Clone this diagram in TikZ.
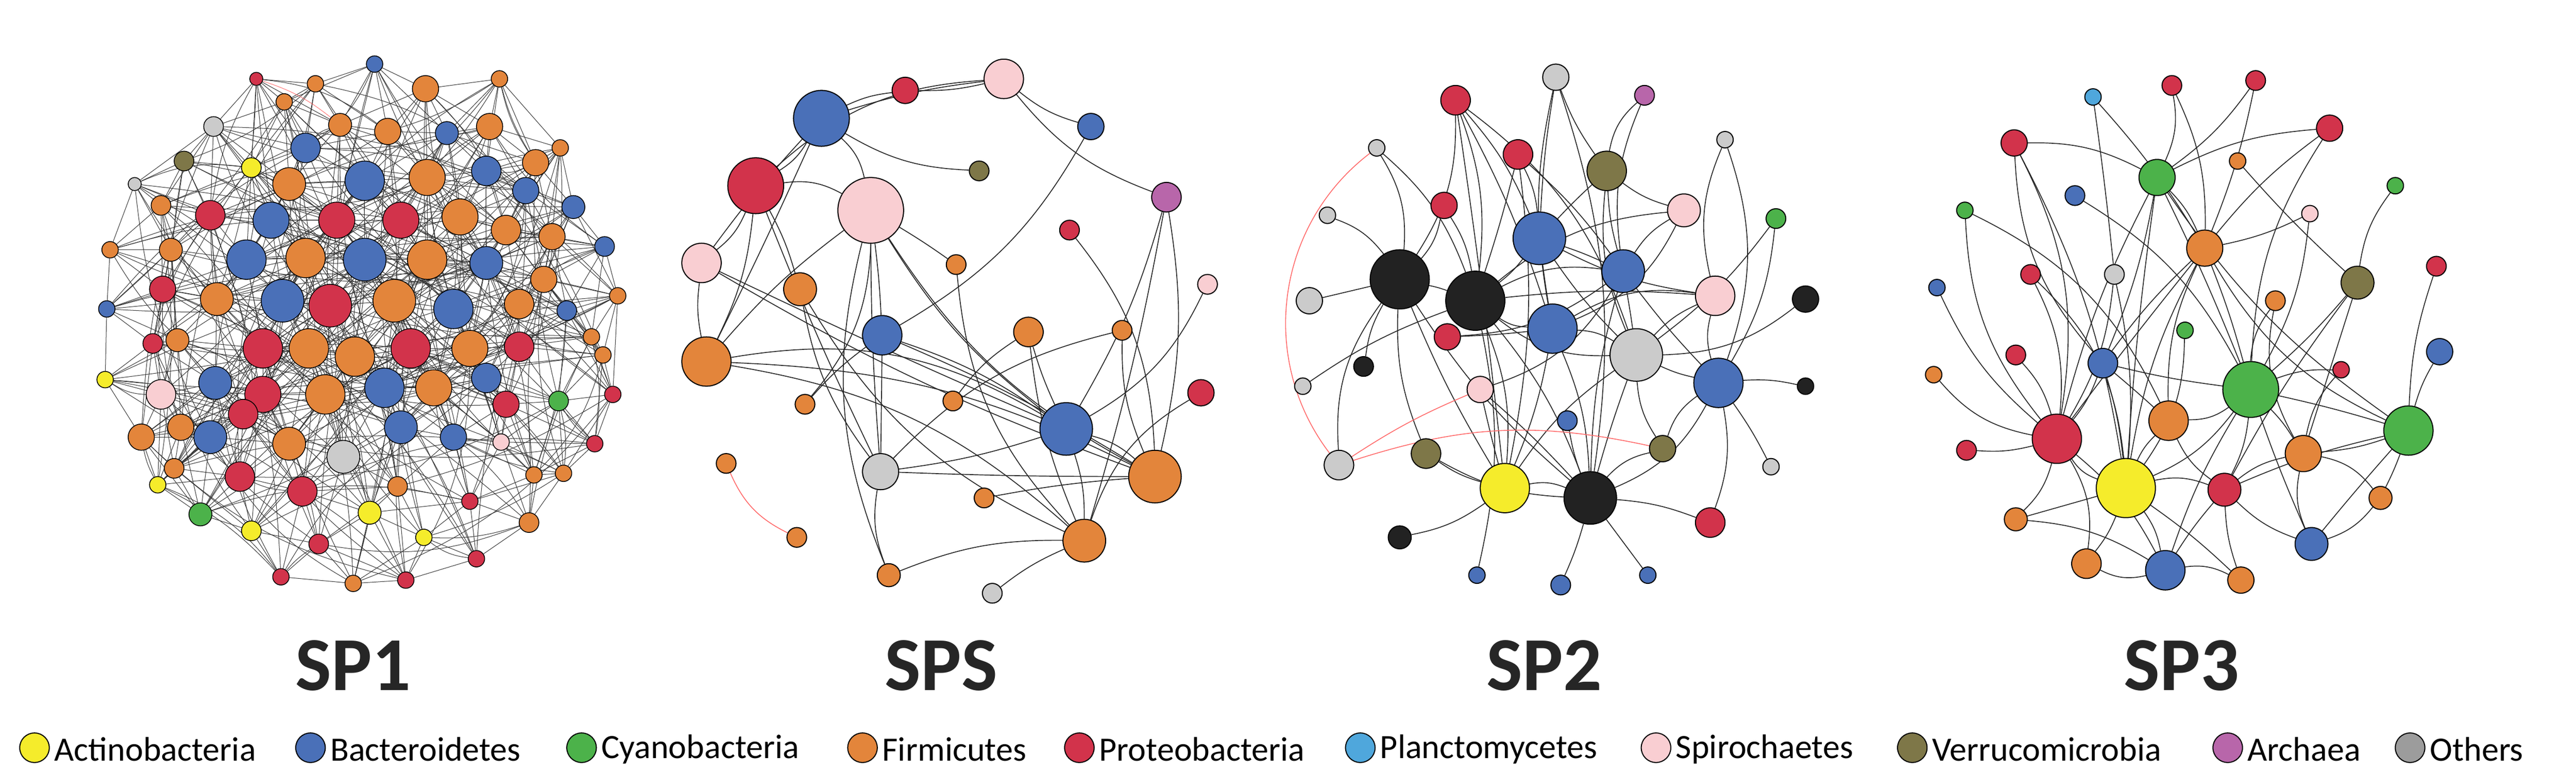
\documentclass[tikz,border=0pt]{standalone}
\usepackage{fontspec}
\setmainfont{Carlito}
\usetikzlibrary{backgrounds}
\definecolor{cY}{HTML}{F5EC2B}
\definecolor{cB}{HTML}{4A70B8}
\definecolor{cG}{HTML}{4CB24A}
\definecolor{cO}{HTML}{E3853B}
\definecolor{cR}{HTML}{D2334B}
\definecolor{cL}{HTML}{4FA7DC}
\definecolor{cP}{HTML}{F9CED2}
\definecolor{cV}{HTML}{7E7748}
\definecolor{cA}{HTML}{B866AA}
\definecolor{cGy}{HTML}{CBCBCB}
\definecolor{cGd}{HTML}{9C9C9C}
\definecolor{cK}{HTML}{222222}
\tikzset{nd/.style={circle,draw=black,line width=1.8pt,inner sep=0pt},
 e1/.style={draw=black!80,line width=0.9pt},
 ed/.style={draw=black!85,line width=1.5pt},
 redge/.style={draw=red!60,line width=1.4pt},
 lab/.style={font=\fontsize{132}{140}\selectfont\bfseries,text=black!85},
 leg/.style={font=\fontsize{59}{64}\selectfont,anchor=west,inner sep=0pt}}
\begin{document}
\begin{tikzpicture}[x=0.1cm,y=-0.1cm]
\useasboundingbox (0,0) rectangle (1568,469.6);
% ---------- SP1 ----------
\foreach \x/\y/\r/\c [count=\i] in {156/48/4/cR,228/39/5/cB,192/51/5/cO,259/54/8/cO,304/48/5/cO,173/62/5/cO,207/76/7/cO,236/80/8/cO,272/81/7/cB,298/77/8/cO,341/90/5/cO,130/77/6/cGy,112/98/6/cV,153/102/6/cY,186/90/9/cB,82/112/4/cGy,326/99/8/cO,176/112/10/cO,222/110/12/cB,260/108/11/cO,296/104/9/cB,320/116/8/cB,349/126/7/cB,128/131/9/cR,165/134/11/cB,205/134/11/cR,244/134/11/cR,280/132/11/cO,308/140/9/cO,336/144/8/cO,98/125/6/cO,67/152/5/cO,368/150/6/cB,104/152/7/cO,150/158/12/cB,186/157/12/cO,222/158/13/cB,260/158/12/cO,296/160/10/cB,331/170/8/cO,99/176/8/cR,132/182/10/cO,172/183/13/cB,201/186/13/cR,240/183/13/cO,276/188/12/cB,316/185/9/cO,345/189/6/cB,65/188/5/cB,376/180/5/cO,108/207/7/cO,160/212/12/cR,188/212/12/cO,216/217/12/cO,250/212/12/cR,286/212/11/cO,316/211/9/cR,93/209/6/cR,360/205/5/cO,131/233/10/cB,160/240/11/cR,198/240/12/cO,234/236/12/cB,264/236/11/cO,296/230/9/cB,98/240/9/cP,64/231/5/cY,340/244/6/cG,367/216/5/cO,373/240/5/cR,110/260/8/cO,128/266/10/cB,148/252/9/cR,176/270/10/cO,209/278/10/cGy,244/260/10/cB,276/266/8/cB,308/246/8/cR,86/266/8/cO,362/270/5/cR,146/290/9/cR,184/299/9/cR,122/313/7/cG,96/295/5/cY,225/312/7/cY,258/327/5/cY,286/305/5/cR,325/289/5/cO,343/288/5/cO,305/269/5/cP,106/285/6/cO,153/323/6/cY,194/331/6/cR,171/351/5/cR,215/355/5/cO,247/353/5/cR,290/340/5/cR,322/318/6/cO,242/296/6/cO}
 \node[nd,line width=1.4pt,fill=\c,minimum size={\r*0.2cm}] (p-\i) at (\x,\y) {};
\begin{pgfonlayer}{background}
\foreach \i in {1,...,99}{
 \foreach \j in {1,...,99}{
  \ifnum\j>\i\relax
   \pgfpointdiff{\pgfpointanchor{p-\i}{center}}{\pgfpointanchor{p-\j}{center}}
   \pgfgetlastxy{\dx}{\dy}
   \pgfmathtruncatemacro\ok{veclen(\dx,\dy)<175}
   \ifnum\ok=1 \draw[e1] (p-\i) -- (p-\j);\fi
  \fi}}
\foreach \i in {1,...,99}{
 \pgfmathtruncatemacro\j{mod(\i*7,99)+1}
 \pgfmathtruncatemacro\k{mod(\i*23,99)+1}
 \pgfmathtruncatemacro\m{mod(\i*41,99)+1}
 \draw[e1] (p-\i) to[bend left=15] (p-\j);
 \draw[e1] (p-\i) to[bend right=10] (p-\k);
 \draw[e1] (p-\i) to[bend left=8] (p-\m);}
\draw[redge,line width=0.8pt] (p-1) to[bend left=10] (p-7);
\end{pgfonlayer}
% ---------- SPS ----------
\foreach \n/\x/\y/\r/\c in {B1/500/72/17/cB,R1/551/55/8/cR,P1/611/48/12/cP,B2/664/77/8/cB,V1/596/104/6/cV,R2/460/113/17/cR,P2/530/128/20/cP,A1/710/120/9/cA,R3/651/140/6/cR,P3/427/160/12/cP,O1/582/161/6/cO,P4/735/173/6/cP,O2/487/176/10/cO,O3/626/202/9/cO,O4/683/201/6/cO,B3/537/204/12/cB,O5/430/220/15/cO,R4/731/239/8/cR,O6/580/244/6/cO,O7/490/246/6/cO,B4/649/261/16/cB,G1/536/287/11/cGy,O8/703/290/16/cO,O9/442/282/6/cO,O10/599/303/6/cO,O11/660/329/13/cO,O12/485/327/6/cO,O13/541/350/7/cO,G2/604/361/6/cGy}
 \node[nd,fill=\c,minimum size={\r*0.2cm}] (a-\n) at (\x,\y) {};
\begin{pgfonlayer}{background}
\foreach \a/\b [count=\k] in {B1/P2,B1/R2,B1/R1,B1/P1,B1/O5,B1/P3,R1/P1,P1/B2,P1/A1,P1/R2,R2/P2,R2/P3,R2/O5,R2/O2,P2/B3,P2/G1,P2/O5,P2/B4,P2/O8,P2/O13,P2/O7,B2/B3,A1/O8,A1/B4,A1/O11,P3/B4,P3/O8,P3/O5,O2/G1,O2/O11,O5/B4,O5/O11,O5/O8,B3/B4,B3/O8,B3/G1,O3/B4,O3/O11,O4/O8,O4/G1,R4/O11,P4/B4,B4/O8,B4/O11,B4/G1,O8/G1,O8/O10,O11/G2,O11/O13,G1/O13,O1/O11,R3/O8,V1/B1,O6/O3,O7/B3,P2/O1,R2/G1}{
 \pgfmathtruncatemacro\bb{mod(\k*37,41)-20}
 \draw[ed] (a-\a) to[bend left=\bb] (a-\b);}
\draw[redge] (a-O9) to[bend right=20] (a-O12);
\end{pgfonlayer}
% ---------- SP2 ----------
\foreach \n/\x/\y/\r/\c in {R1/886/61/9/cR,G1/947/47/8/cGy,A1/1001/58/6/cA,G2/838/90/5/cGy,R2/924/94/9/cR,V1/978/104/12/cV,G3/1050/85/5/cGy,R3/879/125/8/cR,B1/937/145/16/cB,P1/1025/128/10/cP,G4/808/131/5/cGy,Gr1/1081/133/6/cG,K1/852/170/18/cK,K2/898/183/18/cK,B2/988/165/13/cB,P2/1044/180/12/cP,K3/1099/182/8/cK,G5/797/183/8/cGy,R4/881/205/8/cR,B3/945/200/15/cB,G6/996/216/16/cGy,K4/830/223/6/cK,B4/1046/233/15/cB,G7/793/235/5/cGy,P3/901/237/8/cP,K5/1099/235/5/cK,B5/954/256/6/cB,V2/868/276/9/cV,V3/1012/273/8/cV,G8/815/283/9/cGy,Y1/916/297/15/cY,K6/968/303/16/cK,G9/1078/284/5/cGy,R5/1041/318/9/cR,K7/852/327/7/cK,B6/899/350/5/cB,B7/950/356/6/cB,B8/1003/350/5/cB}
 \node[nd,fill=\c,minimum size={\r*0.2cm}] (b-\n) at (\x,\y) {};
\begin{pgfonlayer}{background}
\foreach \a/\b [count=\k] in {R1/K1,R1/K2,R1/B1,R1/B3,R1/Y1,G1/B1,G1/V1,G1/B3,A1/B2,A1/V1,G2/K1,G2/K2,R2/B1,R2/B2,R2/K2,V1/B1,V1/B2,V1/P1,V1/G6,G3/P2,G3/B4,R3/K1,R3/K2,B1/K2,B1/B2,B1/B3,B1/G6,B1/P2,P1/B2,P1/K2,P1/B3,G4/K1,Gr1/B4,Gr1/G6,K1/K2,K1/G5,K1/Y1,K1/K6,K1/V2,K2/B3,K2/G6,K2/B2,K2/Y1,K2/K6,K2/P2,B2/G6,B2/B4,B2/K6,P2/G6,P2/B4,P2/B3,K3/G6,B3/G6,B3/K6,B3/Y1,B3/R4,G6/K6,G6/B4,G6/Y1,G6/V3,B4/V3,B4/K6,B4/R5,K4/K1,G7/K2,P3/K6,P3/Y1,B5/K6,V2/Y1,V2/K6,V3/K6,G8/K1,Y1/K6,Y1/K7,K6/R5,K6/B7,K6/B8,G9/B4,K5/B4,B6/K2,R4/B2,P3/B2,R1/G6,G1/K6,R2/Y1}{
 \pgfmathtruncatemacro\bb{mod(\k*37,41)-20}
 \draw[ed] (b-\a) to[bend left=\bb] (b-\b);}
\draw[redge] (b-G2) to[bend right=45] (b-G8);
\draw[redge] (b-G8) to[bend left=5] (b-P3);
\draw[redge] (b-G8) to[bend left=15] (b-V3);
\end{pgfonlayer}
% ---------- SP3 ----------
\foreach \n/\x/\y/\r/\c in {R1/1322/52/6/cR,R2/1373/49/6/cR,Pl1/1274/59/5/cL,O1/1362/98/5/cO,R3/1418/78/8/cR,R4/1226/87/8/cR,G1/1313/108/11/cG,Gr2/1458/113/5/cG,Gr3/1196/128/5/cG,B1/1263/119/6/cB,P1/1406/130/5/cP,O2/1342/151/11/cO,R5/1236/167/6/cR,Gy1/1287/167/6/cGy,V1/1435/172/10/cV,R6/1483/162/6/cR,B2/1179/175/5/cB,O3/1385/183/6/cO,Gr4/1330/201/5/cG,R7/1227/216/6/cR,B3/1280/221/9/cB,B4/1485/214/8/cB,R8/1425/225/5/cR,O4/1177/228/5/cO,Gr5/1370/237/17/cG,O5/1320/256/12/cO,R9/1252/267/15/cR,Gr6/1466/262/15/cG,R10/1197/274/6/cR,O6/1402/276/11/cO,Y1/1294/297/18/cY,R11/1354/298/10/cR,O7/1449/303/7/cO,O8/1227/316/7/cO,B5/1407/331/10/cB,O9/1270/343/9/cO,B6/1318/347/12/cB,O10/1364/353/8/cO}
 \node[nd,fill=\c,minimum size={\r*0.2cm}] (c-\n) at (\x,\y) {};
\begin{pgfonlayer}{background}
\foreach \a/\b [count=\k] in {R1/G1,R1/O2,R2/G1,R2/O2,Pl1/Gy1,O1/V1,R3/O2,R3/G1,R3/Gr5,R4/B3,R4/R9,R4/G1,G1/O2,G1/B3,G1/Gr5,G1/Y1,G1/R9,G1/Gr6,Gr2/V1,Gr3/R9,Gr3/O5,B1/Gr5,P1/Gr5,P1/O2,O2/Gr5,O2/R9,O2/B3,O2/Y1,O2/O5,O2/Gr6,R5/Y1,R5/R9,Gy1/R9,Gy1/Y1,V1/Gr5,V1/O6,V1/R11,R6/Gr6,B2/R9,O3/Gr5,O3/O6,Gr4/Y1,R7/R9,B3/R9,B3/Y1,B3/O5,B3/Gr5,B4/Gr6,R8/Gr5,R8/O6,O4/R9,Gr5/O5,Gr5/Y1,Gr5/R11,Gr5/O6,Gr5/Gr6,Gr5/B5,Gr5/B6,O5/Y1,O5/R11,R9/Y1,R9/O9,R9/O8,R9/B6,Gr6/O6,Gr6/O7,Gr6/B5,Gr6/R11,R10/R9,O6/R11,O6/B5,O6/O7,Y1/R11,Y1/B6,Y1/O9,Y1/O10,Y1/O8,R11/B6,R11/O10,R11/B5,B5/O7,O9/B6,B6/O10,O8/B6,R4/Y1,Pl1/O2}{
 \pgfmathtruncatemacro\bb{mod(\k*37,41)-20}
 \draw[ed] (c-\a) to[bend left=\bb] (c-\b);}
\end{pgfonlayer}
% ---------- labels ----------
\node[lab] (l1) at (215,405) {SP1};
\node[lab] (l2) at (573,405) {SPS};
\node[lab] (l3) at (940,405) {SP2};
\node[lab] (l4) at (1328,405) {SP3};
% ---------- legend ----------
\foreach \x/\c/\t [count=\i] in {7/cY/Actinobacteria,63/cB/Bacteroidetes,118/cG/Cyanobacteria,175/cO/Firmicutes,219/cR/Proteobacteria,276/cL/Planctomycetes,336/cP/Spirochaetes,388/cV/Verrucomicrobia,452/cA/Archaea,489/cGd/Others}{
 \node[nd,fill=\c,minimum size=1.8cm] (g\i) at (\x*3,455) {};
 \node[leg] (t\i) at (\x*3+12,456) {\t};}
\end{tikzpicture}
\end{document}
